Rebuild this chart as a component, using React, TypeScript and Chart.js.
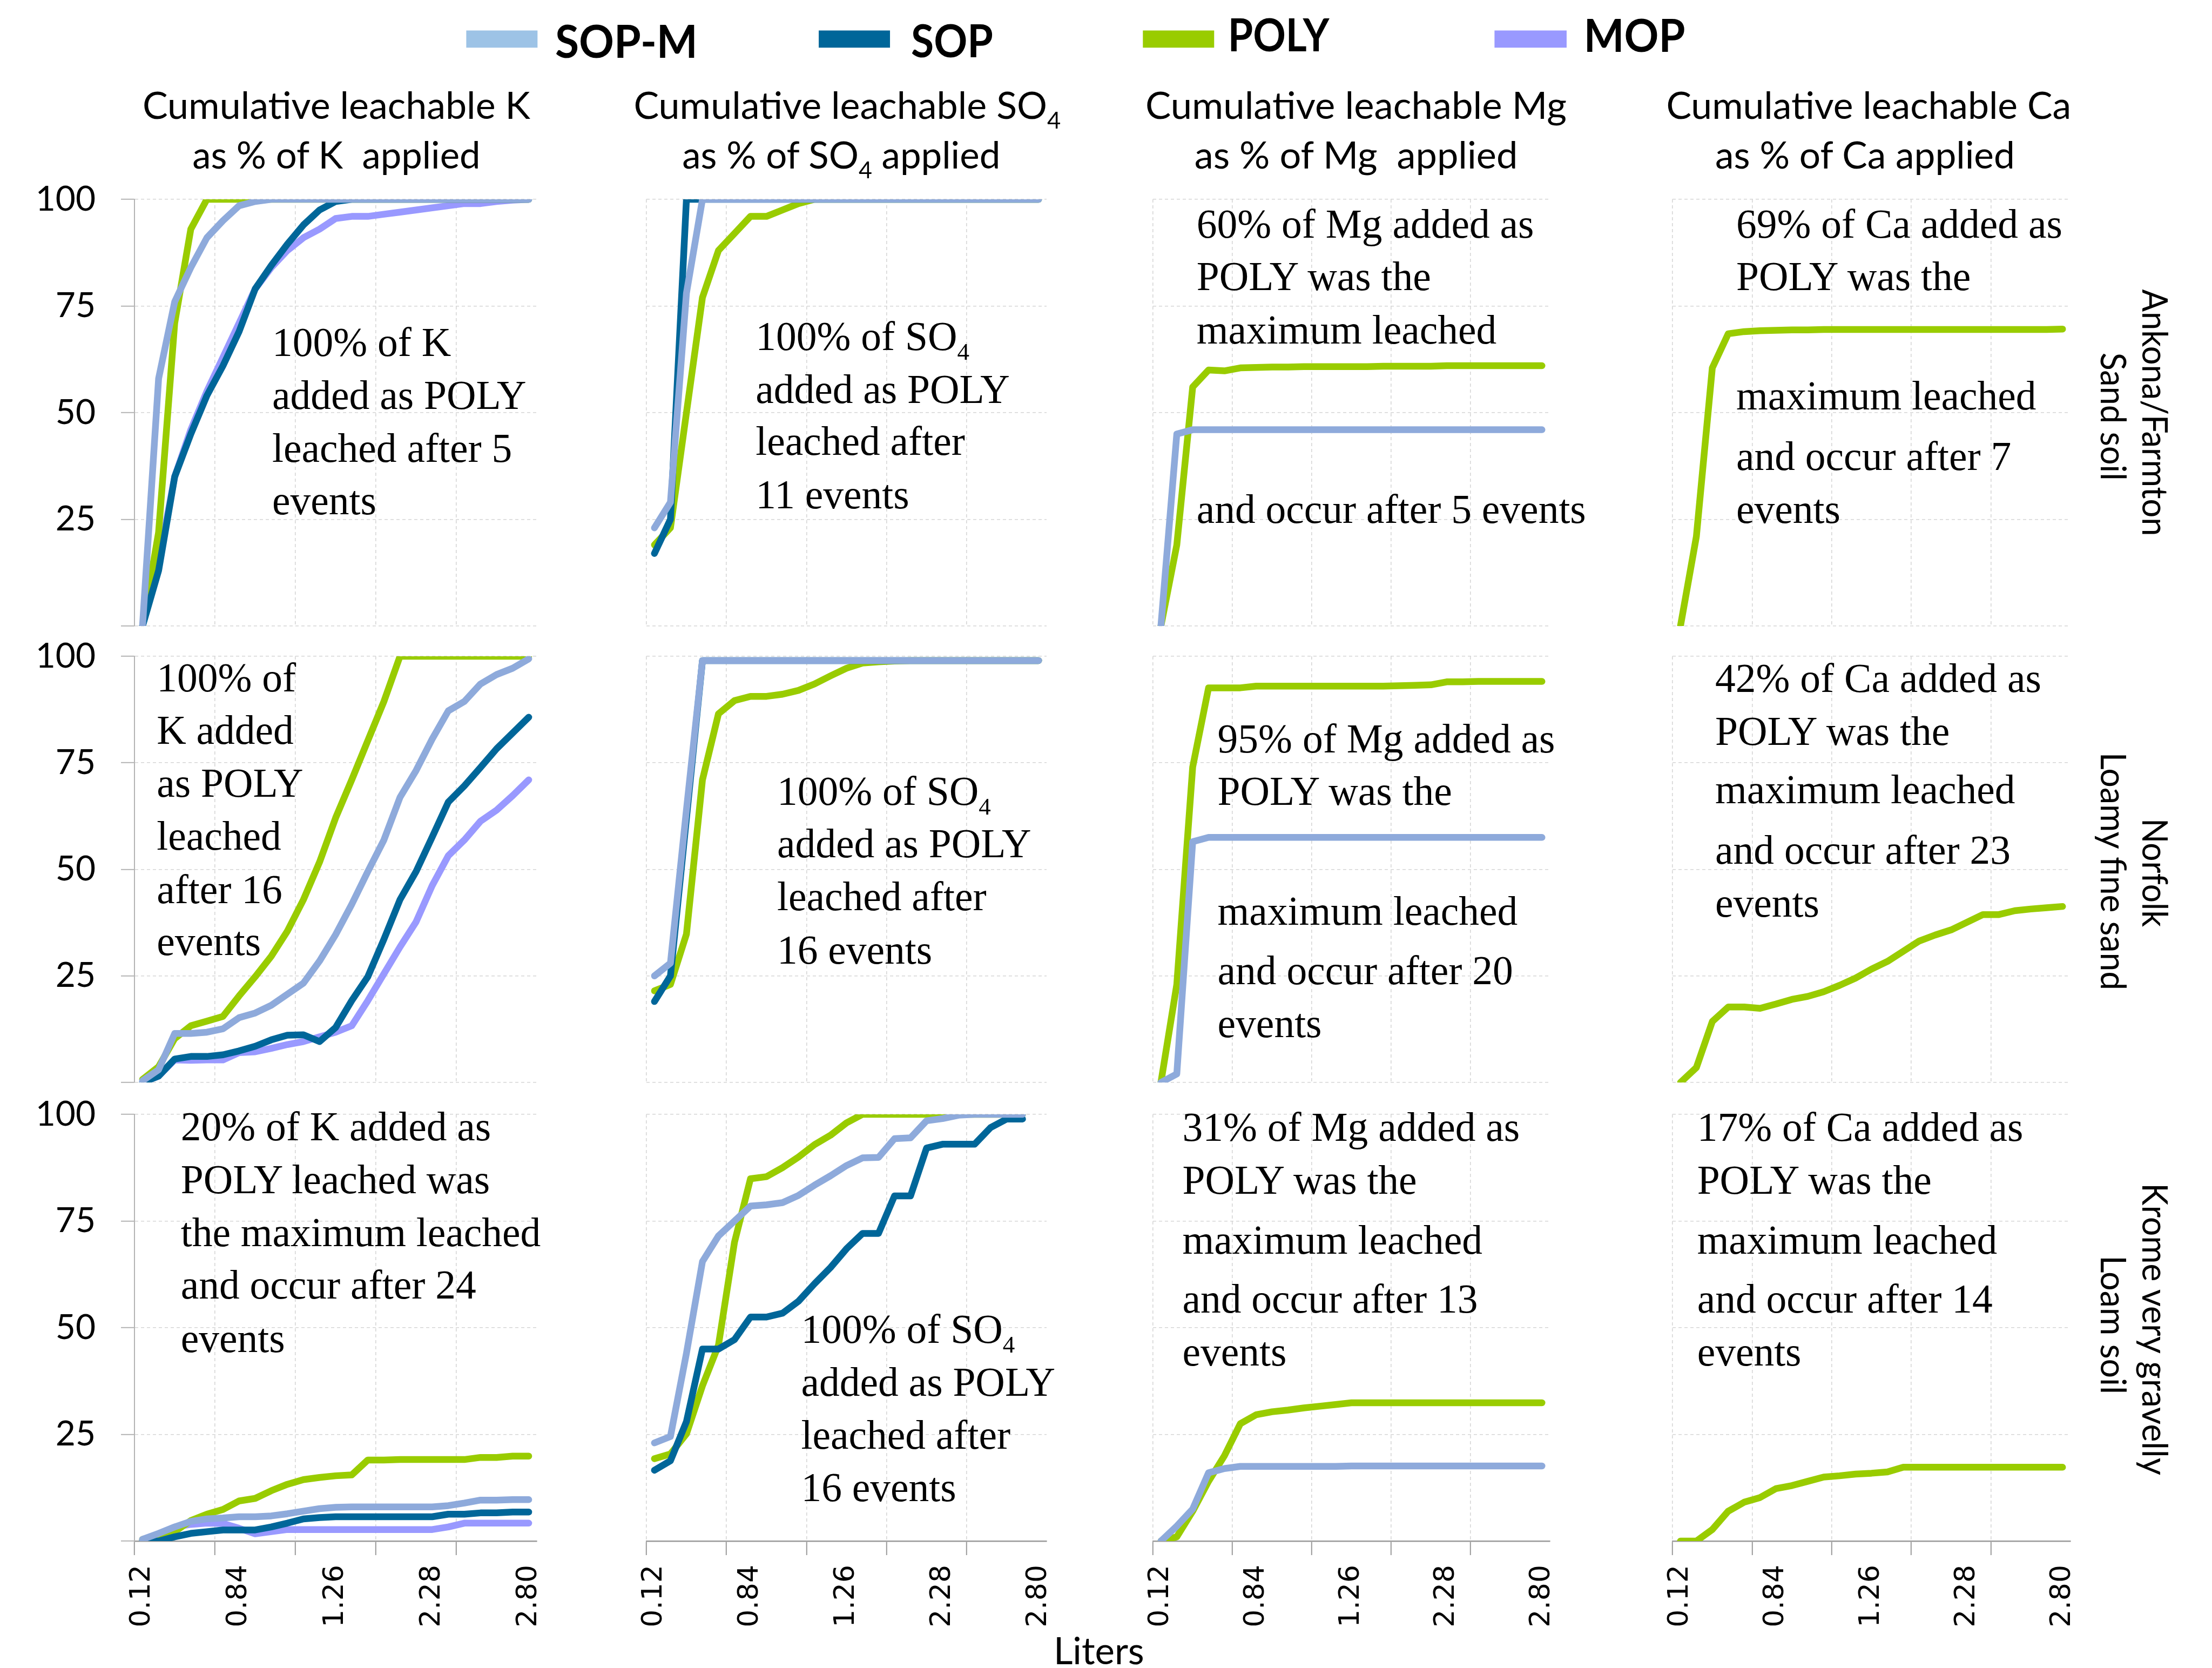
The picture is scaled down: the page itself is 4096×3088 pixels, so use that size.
import React, { useEffect, useRef } from 'react';
import { Chart, registerables } from 'chart.js';

Chart.register(...registerables);

const S = 0.795;
const PAGE_W = 4096;
const PAGE_H = 3088;

// ---------------- axes ----------------
const events = Array.from({ length: 25 }, (_, i) => `${i + 1}`);
const xTickLabels = ['0.12', '0.84', '1.26', '2.28', '2.80'];
const X_LABEL_EVERY = 6;
const X_GRID_EVERY = 5;
const Y_STEP = 25;

// ---------------- data: Ankona/Farmton sand ----------------
const kAnkonaSOPM = [0, 58, 76, 84, 91, 95, 98.5, 99.5, 100, 100, 100, 100, 100, 100, 100, 100, 100, 100, 100, 100, 100, 100, 100, 100, 100];
const kAnkonaSOP = [0, 13, 35, 45, 54, 61, 69, 79, 84.5, 89.5, 94, 97.5, 99.5, 100, 100, 100, 100, 100, 100, 100, 100, 100, 100, 100, 100];
const kAnkonaPOLY = [0, 22, 71, 93, 100, 100, 100, 100, 100, 100, 100, 100, 100, 100, 100, 100, 100, 100, 100, 100, 100, 100, 100, 100, 100];
const kAnkonaMOP = [0, 15, 35, 46, 55, 63, 71, 79, 84, 88, 91, 93, 95.5, 96, 96, 96.5, 97, 97.5, 98, 98.5, 99, 99, 99.5, 99.8, 100];

const so4AnkonaSOPM = [23, 29, 78, 100, 100, 100, 100, 100, 100, 100, 100, 100, 100, 100, 100, 100, 100, 100, 100, 100, 100, 100, 100, 100, 100];
const so4AnkonaSOP = [17, 25, 100, 100, 100, 100, 100, 100, 100, 100, 100, 100, 100, 100, 100, 100, 100, 100, 100, 100, 100, 100, 100, 100, 100];
const so4AnkonaPOLY = [19, 23, 50, 77, 88, 92, 96, 96, 97.5, 99, 100, 100, 100, 100, 100, 100, 100, 100, 100, 100, 100, 100, 100, 100, 100];

const mgAnkonaSOPM = [0, 45, 46, 46, 46, 46, 46, 46, 46, 46, 46, 46, 46, 46, 46, 46, 46, 46, 46, 46, 46, 46, 46, 46, 46];
const mgAnkonaPOLY = [0, 19, 56, 60, 59.8, 60.5, 60.6, 60.7, 60.7, 60.8, 60.8, 60.8, 60.8, 60.8, 60.9, 60.9, 60.9, 60.9, 61, 61, 61, 61, 61, 61, 61];

const caAnkonaPOLY = [0, 21, 60.5, 68.5, 69, 69.2, 69.3, 69.4, 69.4, 69.5, 69.5, 69.5, 69.5, 69.5, 69.5, 69.5, 69.5, 69.5, 69.5, 69.5, 69.5, 69.5, 69.5, 69.5, 69.6];

// ---------------- data: Norfolk loamy fine sand ----------------
const kNorfolkSOPM = [0.4, 3, 11.5, 11.5, 11.8, 12.6, 15.2, 16.3, 18.1, 20.7, 23.3, 28.5, 34.7, 41.8, 49.5, 56.9, 66.9, 73.2, 80.6, 87.2, 89.4, 93.5, 95.7, 97.2, 99.4];
const kNorfolkSOP = [0, 1.5, 5.5, 6.1, 6.1, 6.5, 7.4, 8.5, 10, 11.1, 11.2, 9.6, 12.9, 19.2, 24.8, 33.6, 42.9, 49.5, 57.6, 65.8, 69.6, 73.9, 78.3, 82, 85.7];
const kNorfolkPOLY = [0.7, 3.7, 10.3, 13.3, 14.4, 15.5, 20.3, 24.8, 29.6, 35.5, 42.9, 51.7, 62.1, 71, 80.2, 89.4, 100, 100, 100, 100, 100, 100, 100, 100, 100];
const kNorfolkMOP = [0, 1.5, 5.3, 5.2, 5.3, 5.3, 7, 7.2, 8, 8.9, 9.6, 10.7, 11.8, 13.3, 19.2, 25.5, 31.8, 37.7, 46.2, 53.2, 56.9, 61.3, 63.9, 67.3, 71];

const so4NorfolkSOPM = [25, 28, 64, 99, 99, 99, 99, 99, 99, 99, 99, 99, 99, 99, 99, 99, 99, 99, 99, 99, 99, 99, 99, 99, 99];
const so4NorfolkSOP = [19, 25, 62, 99, 99, 99, 99, 99, 99, 99, 99, 99, 99, 99, 99, 99, 99, 99, 99, 99, 99, 99, 99, 99, 99];
const so4NorfolkPOLY = [21.5, 23, 34.8, 71, 86.5, 89.6, 90.6, 90.6, 91.1, 92, 93.5, 95.4, 97.2, 98.4, 98.7, 98.9, 99, 99, 99, 99, 99, 99, 99, 99, 99];

const mgNorfolkSOPM = [0, 2, 56.5, 57.5, 57.5, 57.5, 57.5, 57.5, 57.5, 57.5, 57.5, 57.5, 57.5, 57.5, 57.5, 57.5, 57.5, 57.5, 57.5, 57.5, 57.5, 57.5, 57.5, 57.5, 57.5];
const mgNorfolkPOLY = [0, 23, 74, 92.6, 92.6, 92.6, 93, 93, 93, 93, 93, 93, 93, 93, 93, 93.1, 93.2, 93.3, 94, 94, 94.1, 94.1, 94.1, 94.1, 94.1];

const caNorfolkPOLY = [0, 3.5, 14.3, 17.7, 17.7, 17.4, 18.4, 19.5, 20.2, 21.3, 22.8, 24.5, 26.6, 28.4, 30.8, 33.2, 34.6, 35.8, 37.6, 39.4, 39.4, 40.3, 40.7, 41, 41.3];

// ---------------- data: Krome very gravelly loam ----------------
const kKromeSOPM = [0.4, 1.8, 3.3, 4.6, 5.2, 5.4, 5.7, 5.7, 5.9, 6.4, 7, 7.6, 7.9, 8, 8, 8, 8, 8, 8, 8.3, 8.9, 9.6, 9.6, 9.7, 9.7];
const kKromeSOP = [0, 0, 1, 1.8, 2.2, 2.6, 2.6, 2.6, 3.3, 4.2, 5.2, 5.5, 5.7, 5.7, 5.7, 5.7, 5.7, 5.7, 5.7, 6.3, 6.3, 6.6, 6.6, 6.8, 6.8];
const kKromePOLY = [0.4, 1.1, 2.2, 4.8, 6.3, 7.4, 9.4, 10, 11.8, 13.3, 14.4, 14.9, 15.3, 15.5, 19, 19, 19.1, 19.1, 19.1, 19.1, 19.1, 19.6, 19.6, 19.9, 19.9];
const kKromeMOP = [0.4, 1.7, 3.3, 3.9, 4.2, 4.1, 3, 1.7, 2.2, 2.7, 2.7, 2.7, 2.7, 2.7, 2.7, 2.7, 2.7, 2.7, 2.7, 3.3, 4.2, 4.2, 4.2, 4.2, 4.2];

const so4KromeSOPM = [23, 24.5, 44, 65.5, 71.5, 75, 78.5, 78.8, 79.3, 81, 83.4, 85.6, 88, 89.8, 89.9, 94.3, 94.5, 98.5, 99, 99.8, 100, 100, 100, 100];
const so4KromeSOP = [16.6, 18.8, 28, 45, 45, 47.2, 52.5, 52.5, 53.4, 56.2, 60.3, 64.1, 68.5, 72.1, 72.1, 80.9, 80.9, 92.1, 93, 93, 93, 96.9, 98.9, 98.9];
const so4KromePOLY = [19.3, 20.4, 25.1, 36.4, 45.9, 70, 84.9, 85.4, 87.5, 90, 92.9, 95.1, 98, 100, 100, 100, 100, 100, 100, 100, 100, 100, 100, 100];

const mgKromeSOPM = [0, 3.5, 7.5, 16, 17, 17.5, 17.5, 17.5, 17.5, 17.5, 17.5, 17.5, 17.6, 17.6, 17.6, 17.6, 17.6, 17.6, 17.6, 17.6, 17.6, 17.6, 17.6, 17.6, 17.6];
const mgKromePOLY = [0, 1, 7, 14, 20, 27.5, 29.6, 30.3, 30.7, 31.2, 31.6, 32, 32.4, 32.4, 32.4, 32.4, 32.4, 32.4, 32.4, 32.4, 32.4, 32.4, 32.4, 32.4, 32.4];

const caKromePOLY = [0, 0, 2.7, 7, 9.1, 10.2, 12.3, 13, 14, 15, 15.3, 15.7, 15.9, 16.2, 17.3, 17.3, 17.3, 17.3, 17.3, 17.3, 17.3, 17.3, 17.3, 17.3, 17.3];

// ---------------- styling ----------------
const seriesColor: Record<string, string> = { 'SOP-M': '#8EAADB', SOP: '#006699', POLY: '#99CC00', MOP: '#9999FF' };
const legendColor: Record<string, string> = { 'SOP-M': '#9DC3E6', SOP: '#006699', POLY: '#99CC00', MOP: '#9999FF' };
const seriesOrder: Record<string, number> = { 'SOP-M': 0, SOP: 1, POLY: 2, MOP: 3 };
const GRID = '#D6D6D6';
const AXIS = '#9A9A9A';
const LINE_W = 12.5;
const SANS = 'Lato, "Open Sans", sans-serif';
const SERIF = '"Liberation Serif", "Times New Roman", serif';

// plot areas in reference pixels
const colLeft = [313, 1506, 2685, 3896];
const colRight = [1250, 2438, 3610, 4823];
const rowTop = [464, 1528, 2595];
const rowBottom = [1458, 2521, 3589];

const ML = 220, MR = 150, MT = 110, MB = 200;

type Series = [string, number[]];
type PanelDef = { row: number; col: number; series: Series[] };

const panels: PanelDef[] = [
  { row: 0, col: 0, series: [['SOP-M', kAnkonaSOPM], ['SOP', kAnkonaSOP], ['POLY', kAnkonaPOLY], ['MOP', kAnkonaMOP]] },
  { row: 0, col: 1, series: [['SOP-M', so4AnkonaSOPM], ['SOP', so4AnkonaSOP], ['POLY', so4AnkonaPOLY]] },
  { row: 0, col: 2, series: [['SOP-M', mgAnkonaSOPM], ['POLY', mgAnkonaPOLY]] },
  { row: 0, col: 3, series: [['POLY', caAnkonaPOLY]] },
  { row: 1, col: 0, series: [['SOP-M', kNorfolkSOPM], ['SOP', kNorfolkSOP], ['POLY', kNorfolkPOLY], ['MOP', kNorfolkMOP]] },
  { row: 1, col: 1, series: [['SOP-M', so4NorfolkSOPM], ['SOP', so4NorfolkSOP], ['POLY', so4NorfolkPOLY]] },
  { row: 1, col: 2, series: [['SOP-M', mgNorfolkSOPM], ['POLY', mgNorfolkPOLY]] },
  { row: 1, col: 3, series: [['POLY', caNorfolkPOLY]] },
  { row: 2, col: 0, series: [['SOP-M', kKromeSOPM], ['SOP', kKromeSOP], ['POLY', kKromePOLY], ['MOP', kKromeMOP]] },
  { row: 2, col: 1, series: [['SOP-M', so4KromeSOPM], ['SOP', so4KromeSOP], ['POLY', so4KromePOLY]] },
  { row: 2, col: 2, series: [['SOP-M', mgKromeSOPM], ['POLY', mgKromePOLY]] },
  { row: 2, col: 3, series: [['POLY', caKromePOLY]] },
];

function Panel({ p }: { p: PanelDef }) {
  const ref = useRef<HTMLCanvasElement>(null);
  const left = colLeft[p.col] * S;
  const right = colRight[p.col] * S;
  const top = rowTop[p.row] * S;
  const bottom = rowBottom[p.row] * S;
  const cx = Math.round(left - ML);
  const cy = Math.round(top - MT);
  const cw = Math.round(right + MR) - cx;
  const ch = Math.round(bottom + MB) - cy;
  const isLeft = p.col === 0;
  const isBottom = p.row === 2;

  useEffect(() => {
    const canvas = ref.current;
    if (!canvas) return;
    const chart = new Chart(canvas, {
      type: 'line',
      data: {
        labels: events,
        datasets: p.series.map(([name, data]) => ({
          label: name,
          data,
          borderColor: seriesColor[name],
          backgroundColor: seriesColor[name],
          borderWidth: LINE_W,
          pointRadius: 0,
          pointHoverRadius: 0,
          tension: 0,
          fill: false,
          borderJoinStyle: 'round',
          borderCapStyle: 'round',
          order: seriesOrder[name],
        })),
      },
      options: {
        responsive: false,
        animation: false,
        devicePixelRatio: 1,
        events: [],
        layout: { padding: { left: 0, right: MR, top: MT, bottom: 0 } },
        plugins: { legend: { display: false }, tooltip: { enabled: false }, title: { display: false } },
        scales: {
          x: {
            type: 'category',
            offset: true,
            grid: {
              offset: true,
              color: (c: any) => (c.index % X_GRID_EVERY === 0 ? GRID : 'rgba(0,0,0,0)'),
              lineWidth: 1.6,
              drawTicks: isBottom,
              tickLength: 26,
              tickWidth: 2,
              tickColor: (c: any) => (c.index % X_GRID_EVERY === 0 ? AXIS : 'rgba(0,0,0,0)'),
              tickBorderDash: [],
            },
            border: { display: isBottom, color: AXIS, width: 2.5, dash: [6, 5] },
            ticks: {
              display: isBottom,
              autoSkip: false,
              minRotation: 90,
              maxRotation: 90,
              padding: 18,
              color: '#000',
              font: { family: '"DejaVu Sans", Verdana, sans-serif', size: 52 },
              callback: (_v: any, i: number) =>
                i % X_LABEL_EVERY === 0 ? xTickLabels[i / X_LABEL_EVERY] ?? '' : '',
            },
            afterFit: (s: any) => { s.height = MB; },
          },
          y: {
            min: 0,
            max: 100,
            grid: {
              color: GRID,
              lineWidth: 1.6,
              drawTicks: isLeft,
              tickLength: 25,
              tickWidth: 2,
              tickColor: '#B4B4B4',
              tickBorderDash: [],
            },
            border: { display: isLeft, color: '#B4B4B4', width: 2, dash: [6, 5] },
            ticks: {
              display: isLeft,
              stepSize: Y_STEP,
              padding: 47,
              color: '#000',
              font: { family: SANS, size: 64 },
              callback: (v: any) => (v === 0 ? '' : String(v)),
            },
            afterFit: (s: any) => { s.width = ML; },
          },
        },
      } as any,
    });
    return () => chart.destroy();
  }, []);

  return (
    <canvas
      ref={ref}
      width={cw}
      height={ch}
      style={{ position: 'absolute', left: cx, top: cy, width: cw, height: ch }}
    />
  );
}

// ---------------- text overlay ----------------
const legendItems = [
  { name: 'SOP-M', sx: 1086, sw: 166, tx: 1293, tw: 332, ty: 135 },
  { name: 'SOP', sx: 1907, sw: 166, tx: 2122, tw: 191, ty: 133 },
  { name: 'POLY', sx: 2662, sw: 166, tx: 2860, tw: 236, ty: 120 },
  { name: 'MOP', sx: 3481, sw: 168, tx: 3689, tw: 236, ty: 121 },
];

const colTitles = [
  [{ text: 'Cumulative leachable K', x: 332, w: 903 }, { text: 'as % of K  applied', x: 448, w: 671 }],
  [{ text: 'Cumulative leachable SO4', x: 1476, w: 995 }, { text: 'as % of SO4 applied', x: 1589, w: 741 }],
  [{ text: 'Cumulative leachable Mg', x: 2668, w: 981 }, { text: 'as % of Mg  applied', x: 2782, w: 753 }],
  [{ text: 'Cumulative leachable Ca', x: 3881, w: 943 }, { text: 'as % of Ca applied', x: 3995, w: 698 }],
];
const titleBaselines = [277, 392];

const rowLabels = [
  { lines: ['Ankona/Farmton', 'Sand soil'], cy: [961, 970], len: [575, 298] },
  { lines: ['Norfolk', 'Loamy fine sand'], cy: [2032, 2029], len: [253, 554] },
  { lines: ['Krome very gravelly', 'Loam soil'], cy: [3095, 3085], len: [680, 323] },
];
const rowLabelBaselineX = [4990, 4893];

type Note = { x: number; lines: [number, string][] };
const notes: Note[] = [
  { x: 634, lines: [[829, '100% of K'], [952, 'added as POLY'], [1075, 'leached after 5'], [1198, 'events']] },
  { x: 1760, lines: [[815, '100% of SO4'], [938, 'added as POLY'], [1059, 'leached after'], [1184, '11 events']] },
  { x: 2787, lines: [[553, '60% of Mg added as'], [675, 'POLY was the'], [800, 'maximum leached'], [1217, 'and occur after 5 events']] },
  { x: 4044, lines: [[553, '69% of Ca added as'], [675, 'POLY was the'], [954, 'maximum leached'], [1094, 'and occur after 7'], [1217, 'events']] },
  { x: 365, lines: [[1610, '100% of'], [1732, 'K added'], [1855, 'as POLY'], [1978, 'leached'], [2103, 'after 16'], [2224, 'events']] },
  { x: 1810, lines: [[1874, '100% of SO4'], [1996, 'added as POLY'], [2119, 'leached after'], [2244, '16 events']] },
  { x: 2836, lines: [[1752, '95% of Mg added as'], [1874, 'POLY was the'], [2154, 'maximum leached'], [2292, 'and occur after 20'], [2415, 'events']] },
  { x: 3995, lines: [[1611, '42% of Ca added as'], [1735, 'POLY was the'], [1871, 'maximum leached'], [2011, 'and occur after 23'], [2135, 'events']] },
  { x: 421, lines: [[2655, '20% of K added as'], [2779, 'POLY leached was'], [2902, 'the maximum leached'], [3024, 'and occur after 24'], [3149, 'events']] },
  { x: 1866, lines: [[3127, '100% of SO4'], [3250, 'added as POLY'], [3373, 'leached after'], [3496, '16 events']] },
  { x: 2754, lines: [[2657, '31% of Mg added as'], [2780, 'POLY was the'], [2919, 'maximum leached'], [3057, 'and occur after 13'], [3180, 'events']] },
  { x: 3953, lines: [[2657, '17% of Ca added as'], [2780, 'POLY was the'], [2919, 'maximum leached'], [3057, 'and occur after 14'], [3180, 'events']] },
];

function rich(str: string, subSize: number, shift: number) {
  const idx = str.indexOf('SO4');
  if (idx < 0) return str;
  const after = str.slice(idx + 3);
  return [
    str.slice(0, idx + 2),
    <tspan key="sub" dy={shift} fontSize={subSize}>4</tspan>,
    <tspan key="after" dy={-shift}>{after || '\u200B'}</tspan>,
  ];
}

function Overlay() {
  const noteSize = 75.5;
  const titleSize = 69;
  return (
    <svg
      width={PAGE_W}
      height={PAGE_H}
      style={{ position: 'absolute', left: 0, top: 0, overflow: 'hidden', whiteSpace: 'pre' }}
    >
      {legendItems.map((it) => (
        <g key={it.name}>
          <rect x={it.sx * S} y={71 * S} width={it.sw * S} height={40 * S} fill={legendColor[it.name]} />
          <text
            x={it.tx * S}
            y={it.ty * S}
            fontFamily={SANS}
            fontWeight={700}
            fontSize={84}
            textLength={it.tw * S}
            lengthAdjust="spacingAndGlyphs"
            fill="#000"
          >
            {it.name}
          </text>
        </g>
      ))}
      {colTitles.map((lines, c) =>
        lines.map((ln, k) => (
          <text
            key={`t${c}${k}`}
            x={ln.x * S}
            y={titleBaselines[k] * S}
            fontFamily={SANS}
            fontSize={titleSize}
            textLength={ln.w * S}
            lengthAdjust="spacingAndGlyphs"
            fill="#000"
            style={{ whiteSpace: 'pre' }}
          >
            {rich(ln.text, 43, 18)}
          </text>
        ))
      )}
      {notes.map((n, i) =>
        n.lines.map(([y, t], k) => (
          <text
            key={`n${i}-${k}`}
            x={n.x * S}
            y={y * S}
            fontFamily={SERIF}
            fontSize={noteSize}
            fill="#000"
          >
            {rich(t, 45, 18)}
          </text>
        ))
      )}
      {rowLabels.map((r, i) =>
        r.lines.map((t, k) => (
          <text
            key={`r${i}${k}`}
            transform={`translate(${rowLabelBaselineX[k] * S},${r.cy[k] * S}) rotate(90)`}
            textAnchor="middle"
            fontFamily={SANS}
            fontSize={66}
            textLength={r.len[k] * S}
            lengthAdjust="spacingAndGlyphs"
            fill="#000"
          >
            {t}
          </text>
        ))
      )}
      <text
        x={2454 * S}
        y={3875 * S}
        fontFamily={SANS}
        fontSize={titleSize}
        textLength={211 * S}
        lengthAdjust="spacingAndGlyphs"
        fill="#000"
      >
        Liters
      </text>
    </svg>
  );
}

export default function App() {
  return (
    <div
      style={{
        position: 'absolute',
        left: 0,
        top: 0,
        width: PAGE_W,
        height: PAGE_H,
        overflow: 'hidden',
        background: '#fff',
      }}
    >
      {panels.map((p, i) => (
        <Panel key={i} p={p} />
      ))}
      <Overlay />
    </div>
  );
}
